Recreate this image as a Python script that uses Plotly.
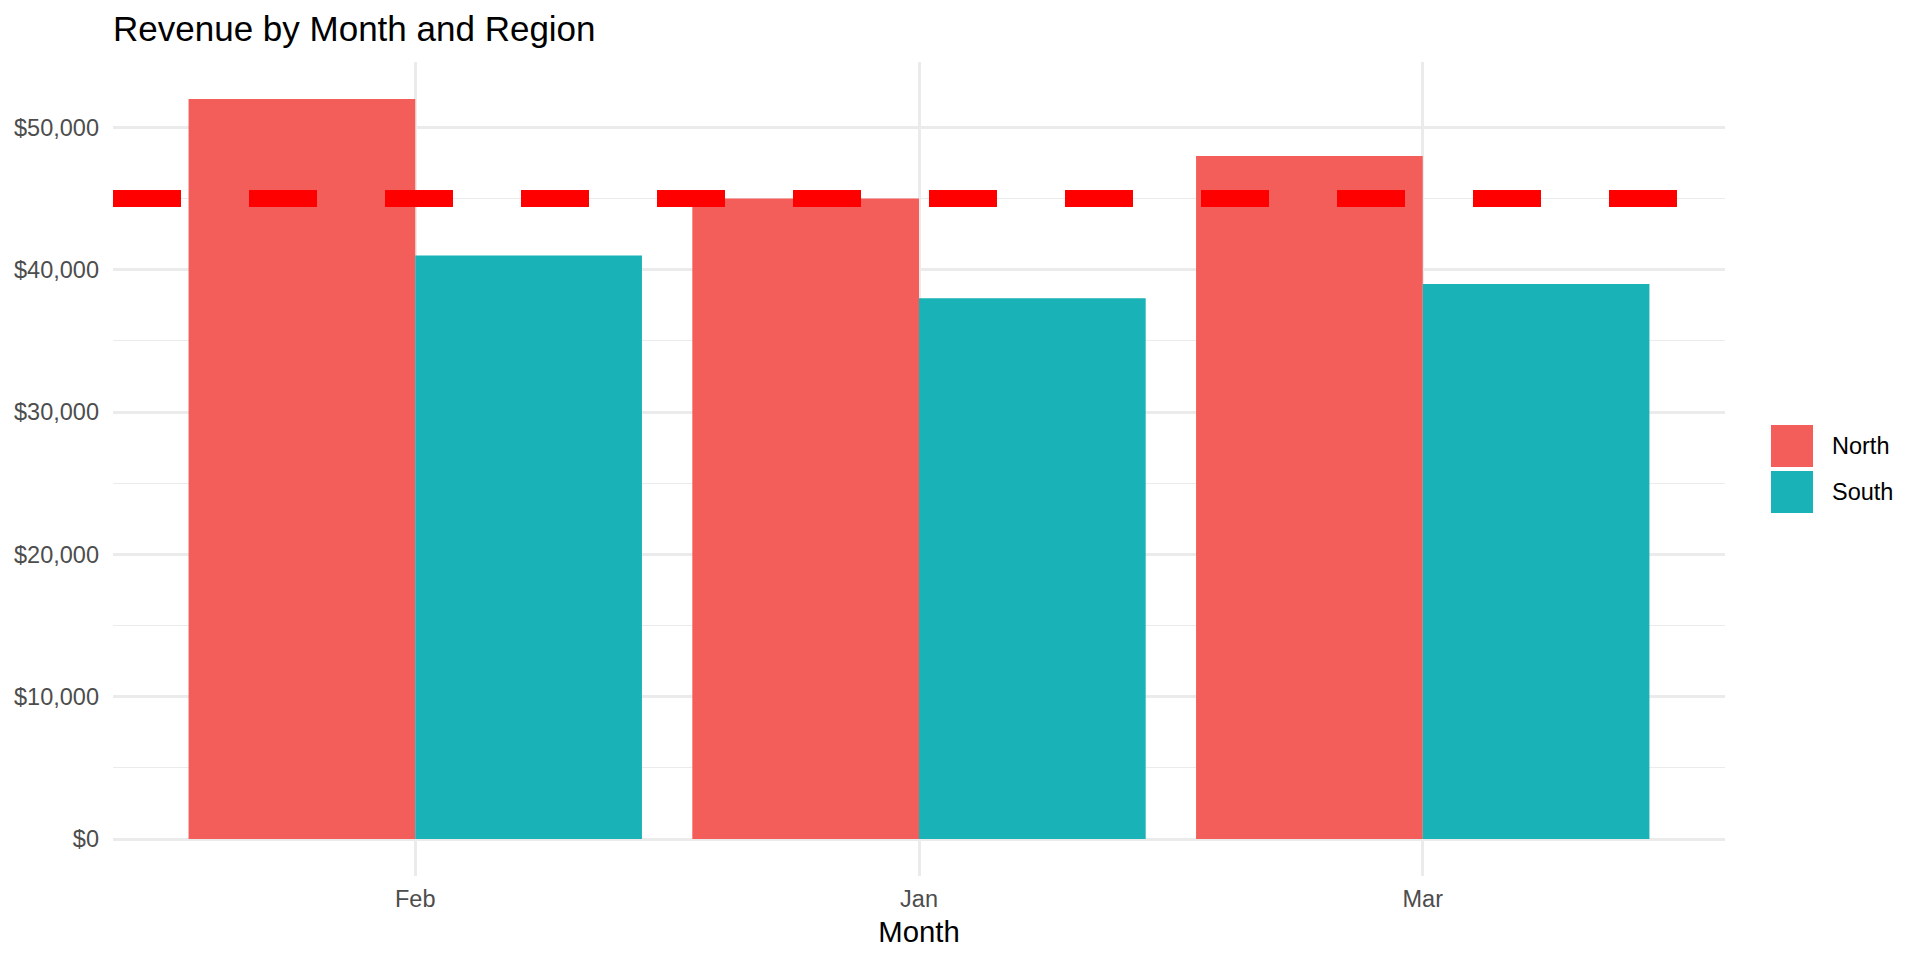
import plotly.graph_objects as go

# ---- data ----
months = ["Feb", "Jan", "Mar"]
regions = ["North", "South"]
north_revenue = [52000, 45000, 48000]
south_revenue = [41000, 38000, 39000]
target = 45000
y_ticks = [0, 10000, 20000, 30000, 40000, 50000]
series = {"North": north_revenue, "South": south_revenue}
colors = {"North": "#F35E5A", "South": "#19B2B7"}

W, H = 1920, 960
L, R, T, B = 113, 1725, 62, 876
FONT = "Liberation Sans, Arial, Helvetica, sans-serif"


def px_x(x):
    return (x - L) / (R - L)


def px_y(y):
    return (B - y) / (B - T)


fig = go.Figure()
for name in regions:
    fig.add_trace(go.Bar(
        x=months, y=series[name], name=name,
        marker=dict(color=colors[name], line=dict(width=0)),
        showlegend=False,
    ))

fig.add_shape(type="line", xref="paper", x0=0, x1=1, yref="y", y0=target, y1=target,
              line=dict(color="#FF0000", width=17, dash="68px,68px"), layer="above")

# manual legend (ggplot-style large keys)
key_tops = [425, 471]
for name, top in zip(regions, key_tops):
    fig.add_shape(type="rect", xref="paper", yref="paper",
                  x0=px_x(1771), x1=px_x(1813), y0=px_y(top + 42), y1=px_y(top),
                  fillcolor=colors[name], line=dict(width=0), layer="above")
    fig.add_annotation(xref="paper", yref="paper", x=px_x(1830), y=px_y(top + 21),
                       text=name, showarrow=False, xanchor="left", yanchor="middle",
                       font=dict(family=FONT, size=23.5, color="#000000"))

fig.update_layout(
    width=W, height=H,
    margin=dict(l=L, r=W - R, t=T, b=H - B, autoexpand=False),
    paper_bgcolor="white", plot_bgcolor="white",
    barmode="group", bargap=0.1, bargroupgap=0,
    font=dict(family=FONT, color="#4D4D4D"),
    title=dict(text="Revenue by Month and Region", x=L / W, xref="container", xanchor="left",
               y=1 - 16 / H, yref="container", yanchor="top",
               font=dict(family=FONT, size=35, color="#000000")),
    showlegend=False,
)
fig.update_xaxes(
    type="category", categoryorder="array", categoryarray=months,
    range=[-0.6, len(months) - 0.4],
    showgrid=True, gridcolor="#EBEBEB", gridwidth=2.8,
    showline=False, zeroline=False, ticks="",
    tickfont=dict(family=FONT, size=23.5, color="#4D4D4D"),
    ticklabelstandoff=6,
    title=dict(text="Month", font=dict(family=FONT, size=29.3, color="#000000"), standoff=10),
    automargin=False,
)
fig.update_yaxes(
    range=[-2600, 54600],
    tickvals=y_ticks, tickformat="$,.0f",
    showgrid=True, gridcolor="#EBEBEB", gridwidth=2.8,
    minor=dict(tickvals=[v + 5000 for v in y_ticks], showgrid=True, gridcolor="#EBEBEB", gridwidth=1.4),
    showline=False, zeroline=False, ticks="",
    tickfont=dict(family=FONT, size=23.5, color="#4D4D4D"),
    ticklabelstandoff=13,
    automargin=False,
)

fig.write_html("out.html", config={"displayModeBar": False},
               post_script="document.body.style.margin='0';document.body.style.padding='0';")
